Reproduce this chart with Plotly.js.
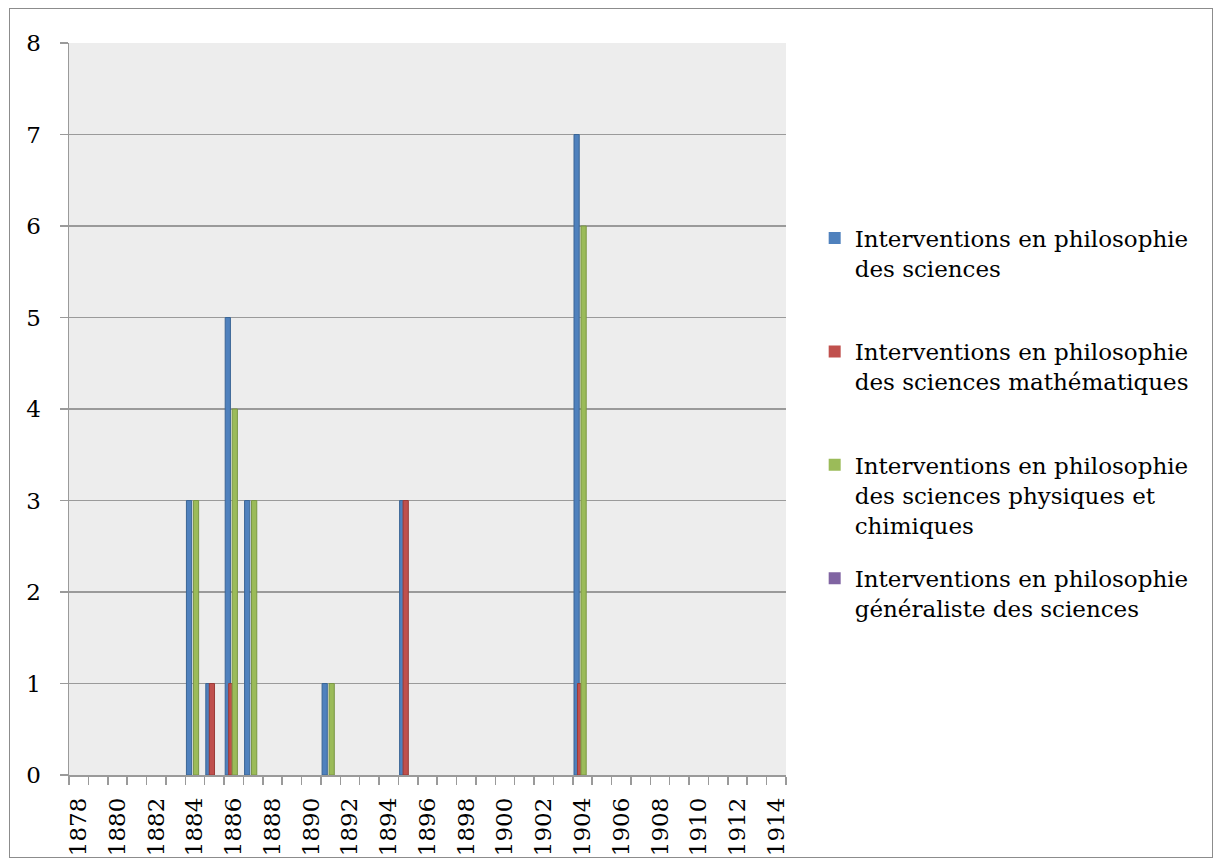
<!DOCTYPE html>
<html>
<head>
<meta charset="utf-8">
<script src="https://cdn.plot.ly/plotly-3.0.1.min.js"></script>
<style>
  html, body { margin: 0; padding: 0; background: #fff; }
  #wrap { position: relative; width: 1221px; height: 865px; }
  #chart { position: absolute; left: 0; top: 0; width: 1221px; height: 865px; }
  #frame { position: absolute; left: 9px; top: 8px; width: 1202px; height: 848px;
           border: 1.5px solid #8c8c8c; pointer-events: none; }
</style>
</head>
<body>
<div id="wrap"><div id="chart"></div><div id="frame"></div></div>
<script>
// Years (categories)
const years = [];
for (let y = 1878; y <= 1914; y++) years.push(y);

// Series values (only non-zero years listed, others 0)
const sciencesVals = {1884: 3, 1885: 1, 1886: 5, 1887: 3, 1891: 1, 1895: 3, 1904: 7};
const mathVals     = {1885: 1, 1886: 1, 1895: 3, 1904: 1};
const physVals     = {1884: 3, 1886: 4, 1887: 3, 1891: 1, 1904: 6};
const generalVals  = {};

const seriesNames = [
  "Interventions en philosophie<br>des sciences",
  "Interventions en philosophie<br>des sciences mathématiques",
  "Interventions en philosophie<br>des sciences physiques et<br>chimiques",
  "Interventions en philosophie<br>généraliste des sciences"
];
const tickYears = years.filter(y => (y - 1878) % 2 === 0);

const fills = ["#4F81BD", "#C0504D", "#9BBB59", "#8064A2"];
const borders = ["#3A6595", "#9A3B38", "#7A9645", "#644C82"];
const offsets = [-0.44, -0.26, -0.08, 0.10];
const seriesData = [sciencesVals, mathVals, physVals, generalVals];
const legendIds = ["legend", "legend2", "legend3", "legend4"];

const FONT = "DejaVu Serif, serif";
const FS = 23;

const traces = seriesData.map((vals, i) => {
  const yv = years.map(y => vals[y] || 0);
  return {
    type: "bar",
    name: seriesNames[i],
    x: years,
    y: yv,
    width: 0.27,
    offset: offsets[i],
    marker: { color: fills[i], line: { color: borders[i], width: yv.map(v => v > 0 ? 1 : 0) } },
    legend: legendIds[i],
    hoverinfo: "x+y"
  };
});

const legendYs = [0.763, 0.608, 0.453, 0.298];
const layout = {
  width: 1221, height: 865,
  margin: { l: 69, r: 435, t: 43, b: 90 },
  paper_bgcolor: "#ffffff",
  plot_bgcolor: "#ededed",
  barmode: "overlay",
  font: { family: FONT, size: FS, color: "#000" },
  showlegend: true,
  xaxis: {
    type: "linear",
    range: [1877.5, 1914.5],
    tickvals: tickYears,
    ticktext: tickYears.map(String),
    tickangle: -90,
    ticks: "",
    ticklabelstandoff: 12,
    showgrid: false,
    zeroline: false,
    showline: true,
    linecolor: "#9a9a9a",
    linewidth: 1.5,
    tickfont: { family: FONT, size: FS, color: "#000" },
    minor: { tick0: 1877.5, dtick: 1, ticks: "outside", ticklen: 8, tickcolor: "#9a9a9a", tickwidth: 1.5, showgrid: false }
  },
  yaxis: {
    range: [0, 8],
    dtick: 1,
    ticks: "outside",
    ticklen: 8,
    tickcolor: "#9a9a9a",
    tickwidth: 1.5,
    ticklabelstandoff: 14,
    showgrid: true,
    gridcolor: "#9a9a9a",
    gridwidth: 1.5,
    zeroline: false,
    showline: true,
    linecolor: "#9a9a9a",
    linewidth: 1.5,
    tickfont: { family: FONT, size: FS, color: "#000" }
  }
};
legendIds.forEach((id, i) => {
  layout[id] = {
    x: 1.04, xanchor: "left",
    y: legendYs[i], yanchor: "top",
    bgcolor: "rgba(0,0,0,0)",
    borderwidth: 0,
    valign: "top",
    font: { family: FONT, size: FS, color: "#000" }
  };
});

Plotly.newPlot("chart", traces, layout, { displayModeBar: false, staticPlot: true });
</script>
</body>
</html>
